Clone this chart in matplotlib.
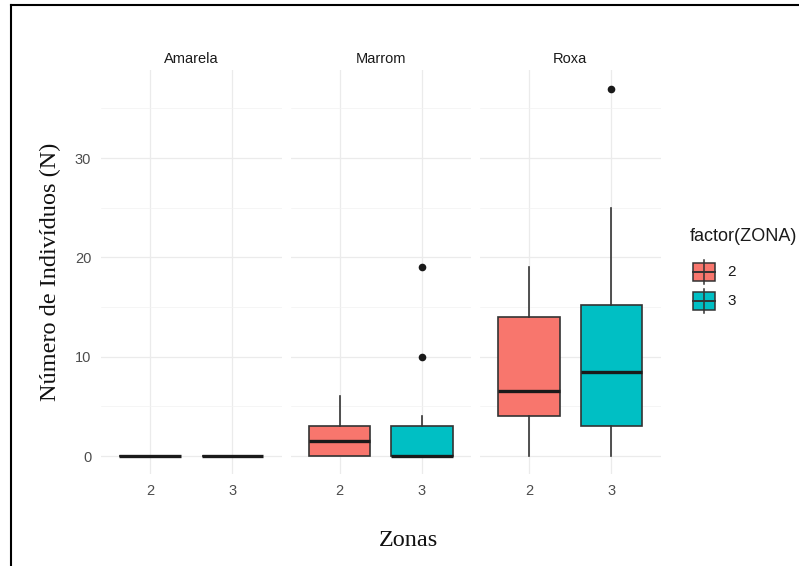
import matplotlib
matplotlib.use("Agg")
import matplotlib.pyplot as plt
from matplotlib.patches import Rectangle
from matplotlib.lines import Line2D

# data (boxplot summaries per facet, per zone)
facets = ['Amarela', 'Marrom', 'Roxa']
zonas = ['2', '3']
whislo = [[0, 0], [0, 0], [0, 0]]
q1 = [[0, 0], [0, 0], [4, 3]]
med = [[0, 0], [1.5, 0], [6.5, 8.5]]
q3 = [[0, 0], [3, 3], [14, 15.2]]
whishi = [[0, 0], [6, 4], [19, 25]]
fliers = [[[], []], [[], [10, 19]], [[], [37]]]
yticks = [0, 10, 20, 30]
yminor = [5, 15, 25, 35]

colors = ['#F8766D', '#00BFC4']
W, H = 799, 566

fig = plt.figure(figsize=(W / 100, H / 100), dpi=100)
fig.patch.set_facecolor('white')

sans = ['Liberation Sans', 'DejaVu Sans']
serif = ['Liberation Serif', 'DejaVu Serif']

panel_left = [101, 290.5, 480]
panel_w = 180.5
top, bottom = 70.2, 474.4

for i, name in enumerate(facets):
    ax = fig.add_axes([panel_left[i] / W, 1 - bottom / H, panel_w / W, (bottom - top) / H])
    stats = []
    for j in range(len(zonas)):
        stats.append({'whislo': whislo[i][j], 'q1': q1[i][j], 'med': med[i][j],
                      'q3': q3[i][j], 'whishi': whishi[i][j], 'fliers': fliers[i][j]})
    bp = ax.bxp(stats, positions=[1, 2], widths=0.75, patch_artist=True, showcaps=False,
                boxprops=dict(edgecolor='#333333', linewidth=1.2),
                medianprops=dict(color='#1a1a1a', linewidth=2.4),
                whiskerprops=dict(color='#333333', linewidth=1.2),
                flierprops=dict(marker='o', markerfacecolor='#1a1a1a', markeredgecolor='none',
                                markersize=5.5),
                zorder=3)
    for patch, c in zip(bp['boxes'], colors):
        patch.set_facecolor(c)
    ax.set_xlim(0.4, 2.6)
    ax.set_ylim(-1.85, 38.85)
    ax.set_xticks([1, 2])
    ax.set_xticklabels(zonas)
    ax.set_yticks(yticks)
    ax.set_yticks(yminor, minor=True)
    if i == 0:
        ax.set_yticklabels([str(v) for v in yticks])
    else:
        ax.set_yticklabels([])
    ax.tick_params(which='both', length=0, labelsize=10.5, labelcolor='#4D4D4D', pad=7)
    for lab in ax.get_xticklabels() + ax.get_yticklabels():
        lab.set_family(sans)
    ax.grid(True, which='major', color='#EBEBEB', linewidth=0.9, zorder=0)
    ax.grid(True, which='minor', axis='y', color='#F2F2F2', linewidth=0.5, zorder=0)
    ax.set_axisbelow(True)
    for s in ax.spines.values():
        s.set_visible(False)
    ax.set_title(name, fontsize=10.5, color='#1A1A1A', family=sans, pad=5)

# axis titles
fig.text(50 / W, 1 - 272 / H, 'Número de Indivíduos (N)', rotation=90, ha='center', va='center',
         fontsize=17.5, family=serif, color='#111111')
fig.text(409 / W, 1 - 540 / H, 'Zonas', ha='center', va='center', fontsize=17.5,
         family=serif, color='#111111')

# legend
fig.text(690 / W, 1 - 236 / H, 'factor(ZONA)', ha='left', va='center', fontsize=13,
         family=sans, color='#1A1A1A')
lax = fig.add_axes([0, 0, 1, 1])
lax.set_xlim(0, W)
lax.set_ylim(H, 0)
lax.axis('off')
for k, (z, c) in enumerate(zip(zonas, colors)):
    cy = 272 + k * 29
    lax.add_line(Line2D([704, 704], [cy - 12, cy + 12], color='#333333', lw=1.1))
    lax.add_patch(Rectangle((693, cy - 9), 22, 18, facecolor=c, edgecolor='#333333', lw=1.1))
    lax.add_line(Line2D([693, 715], [cy, cy], color='#333333', lw=1.4))
    lax.text(727, cy, z, ha='left', va='center', fontsize=11, family=sans, color='#1A1A1A')

# page frame of the screenshot
lax.add_line(Line2D([11, 11], [5, H], color='black', lw=1.5))
lax.add_line(Line2D([11, W], [5, 5], color='black', lw=1.5))

fig.savefig('out.png', dpi=100)
